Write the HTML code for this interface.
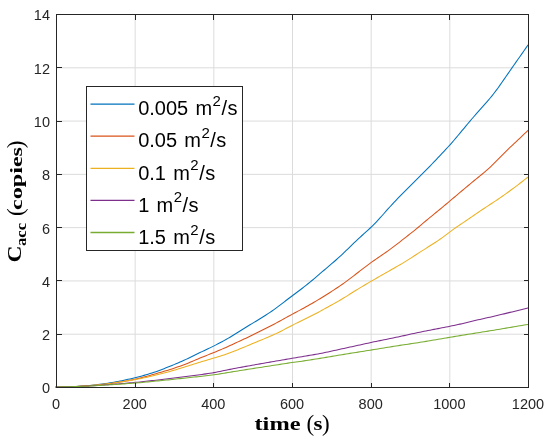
<!DOCTYPE html>
<html><head><meta charset="utf-8"><style>
html,body{margin:0;padding:0;background:#fff;}
body{width:550px;height:440px;overflow:hidden;}
svg{display:block;will-change:transform;}
</style></head><body>
<svg width="550" height="440" viewBox="0 0 550 440">
<rect width="550" height="440" fill="#fff"/>
<g stroke="#dcdcdc" stroke-width="1">
<line x1="135.17" y1="14.5" x2="135.17" y2="387.5"/><line x1="213.83" y1="14.5" x2="213.83" y2="387.5"/><line x1="292.50" y1="14.5" x2="292.50" y2="387.5"/><line x1="371.17" y1="14.5" x2="371.17" y2="387.5"/><line x1="449.83" y1="14.5" x2="449.83" y2="387.5"/><line x1="56.5" y1="334.21" x2="528.5" y2="334.21"/><line x1="56.5" y1="280.93" x2="528.5" y2="280.93"/><line x1="56.5" y1="227.64" x2="528.5" y2="227.64"/><line x1="56.5" y1="174.36" x2="528.5" y2="174.36"/><line x1="56.5" y1="121.07" x2="528.5" y2="121.07"/><line x1="56.5" y1="67.79" x2="528.5" y2="67.79"/>
</g>
<g fill="none" stroke-width="1.05" stroke-linejoin="round" stroke-linecap="round">
<polyline stroke="#0072BD" points="56.0,387.00 58.0,386.98 60.0,386.96 62.0,386.93 64.0,386.90 66.0,386.85 68.0,386.80 70.0,386.73 72.0,386.66 74.0,386.57 76.0,386.47 78.0,386.36 80.0,386.24 82.0,386.10 84.0,385.95 86.0,385.79 88.0,385.62 90.0,385.43 92.0,385.24 94.0,385.02 96.0,384.80 98.0,384.56 100.0,384.31 102.0,384.04 104.0,383.77 106.0,383.47 108.0,383.17 110.0,382.85 112.0,382.52 114.0,382.17 116.0,381.81 118.0,381.43 120.0,381.05 122.0,380.64 124.0,380.23 126.0,379.79 128.0,379.35 130.0,378.89 132.0,378.42 134.0,377.94 136.0,377.45 138.0,376.95 140.0,376.44 142.0,375.91 144.0,375.37 146.0,374.81 148.0,374.23 150.0,373.62 152.0,372.99 154.0,372.34 156.0,371.66 158.0,370.94 160.0,370.20 162.0,369.44 164.0,368.65 166.0,367.86 168.0,367.06 170.0,366.25 172.0,365.44 174.0,364.62 176.0,363.78 178.0,362.94 180.0,362.08 182.0,361.20 184.0,360.30 186.0,359.38 188.0,358.44 190.0,357.47 192.0,356.49 194.0,355.51 196.0,354.52 198.0,353.55 200.0,352.58 202.0,351.63 204.0,350.69 206.0,349.75 208.0,348.81 210.0,347.85 212.0,346.88 214.0,345.89 216.0,344.87 218.0,343.83 220.0,342.77 222.0,341.69 224.0,340.60 226.0,339.49 228.0,338.35 230.0,337.18 232.0,335.98 234.0,334.75 236.0,333.49 238.0,332.23 240.0,330.98 242.0,329.73 244.0,328.49 246.0,327.26 248.0,326.04 250.0,324.82 252.0,323.61 254.0,322.40 256.0,321.18 258.0,319.97 260.0,318.74 262.0,317.50 264.0,316.24 266.0,314.97 268.0,313.67 270.0,312.35 272.0,311.00 274.0,309.61 276.0,308.18 278.0,306.70 280.0,305.18 282.0,303.63 284.0,302.07 286.0,300.52 288.0,298.99 290.0,297.49 292.0,295.99 294.0,294.50 296.0,293.01 298.0,291.50 300.0,289.99 302.0,288.46 304.0,286.92 306.0,285.36 308.0,283.77 310.0,282.14 312.0,280.48 314.0,278.78 316.0,277.06 318.0,275.34 320.0,273.62 322.0,271.92 324.0,270.23 326.0,268.55 328.0,266.86 330.0,265.17 332.0,263.47 334.0,261.74 336.0,259.99 338.0,258.20 340.0,256.38 342.0,254.51 344.0,252.62 346.0,250.70 348.0,248.76 350.0,246.82 352.0,244.88 354.0,242.96 356.0,241.05 358.0,239.17 360.0,237.32 362.0,235.50 364.0,233.70 366.0,231.91 368.0,230.09 370.0,228.24 372.0,226.32 374.0,224.33 376.0,222.27 378.0,220.15 380.0,217.97 382.0,215.74 384.0,213.48 386.0,211.22 388.0,208.96 390.0,206.73 392.0,204.55 394.0,202.40 396.0,200.30 398.0,198.22 400.0,196.17 402.0,194.14 404.0,192.11 406.0,190.09 408.0,188.08 410.0,186.07 412.0,184.07 414.0,182.08 416.0,180.11 418.0,178.15 420.0,176.18 422.0,174.21 424.0,172.22 426.0,170.21 428.0,168.16 430.0,166.10 432.0,164.01 434.0,161.91 436.0,159.81 438.0,157.70 440.0,155.59 442.0,153.47 444.0,151.34 446.0,149.19 448.0,147.01 450.0,144.80 452.0,142.54 454.0,140.23 456.0,137.89 458.0,135.52 460.0,133.12 462.0,130.70 464.0,128.29 466.0,125.87 468.0,123.48 470.0,121.12 472.0,118.78 474.0,116.48 476.0,114.21 478.0,111.95 480.0,109.70 482.0,107.45 484.0,105.19 486.0,102.91 488.0,100.60 490.0,98.23 492.0,95.80 494.0,93.28 496.0,90.66 498.0,87.95 500.0,85.16 502.0,82.30 504.0,79.41 506.0,76.51 508.0,73.61 510.0,70.72 512.0,67.85 514.0,64.99 516.0,62.14 518.0,59.30 520.0,56.45 522.0,53.59 524.0,50.73 526.0,47.87 528.0,45.00 528.0,45.00"/>
<polyline stroke="#D95319" points="56.0,387.00 58.0,386.98 60.0,386.97 62.0,386.95 64.0,386.92 66.0,386.88 68.0,386.84 70.0,386.78 72.0,386.72 74.0,386.65 76.0,386.57 78.0,386.48 80.0,386.38 82.0,386.27 84.0,386.14 86.0,386.01 88.0,385.87 90.0,385.72 92.0,385.55 94.0,385.38 96.0,385.19 98.0,384.99 100.0,384.79 102.0,384.57 104.0,384.34 106.0,384.09 108.0,383.84 110.0,383.57 112.0,383.30 114.0,383.01 116.0,382.71 118.0,382.40 120.0,382.07 122.0,381.74 124.0,381.39 126.0,381.03 128.0,380.66 130.0,380.28 132.0,379.88 134.0,379.48 136.0,379.05 138.0,378.60 140.0,378.12 142.0,377.62 144.0,377.09 146.0,376.53 148.0,375.97 150.0,375.39 152.0,374.81 154.0,374.23 156.0,373.65 158.0,373.07 160.0,372.49 162.0,371.91 164.0,371.32 166.0,370.73 168.0,370.13 170.0,369.52 172.0,368.89 174.0,368.23 176.0,367.56 178.0,366.87 180.0,366.16 182.0,365.43 184.0,364.69 186.0,363.94 188.0,363.15 190.0,362.34 192.0,361.49 194.0,360.63 196.0,359.77 198.0,358.90 200.0,358.06 202.0,357.24 204.0,356.44 206.0,355.66 208.0,354.88 210.0,354.10 212.0,353.31 214.0,352.51 216.0,351.68 218.0,350.85 220.0,350.00 222.0,349.14 224.0,348.27 226.0,347.40 228.0,346.51 230.0,345.60 232.0,344.69 234.0,343.76 236.0,342.82 238.0,341.89 240.0,340.96 242.0,340.03 244.0,339.10 246.0,338.17 248.0,337.24 250.0,336.28 252.0,335.31 254.0,334.33 256.0,333.34 258.0,332.34 260.0,331.34 262.0,330.34 264.0,329.34 266.0,328.34 268.0,327.33 270.0,326.30 272.0,325.26 274.0,324.20 276.0,323.13 278.0,322.05 280.0,320.96 282.0,319.85 284.0,318.74 286.0,317.63 288.0,316.52 290.0,315.42 292.0,314.34 294.0,313.27 296.0,312.21 298.0,311.15 300.0,310.09 302.0,309.01 304.0,307.92 306.0,306.81 308.0,305.69 310.0,304.56 312.0,303.42 314.0,302.27 316.0,301.11 318.0,299.92 320.0,298.72 322.0,297.50 324.0,296.26 326.0,295.01 328.0,293.74 330.0,292.46 332.0,291.17 334.0,289.88 336.0,288.56 338.0,287.23 340.0,285.87 342.0,284.48 344.0,283.06 346.0,281.61 348.0,280.13 350.0,278.62 352.0,277.10 354.0,275.56 356.0,274.03 358.0,272.49 360.0,270.95 362.0,269.40 364.0,267.87 366.0,266.34 368.0,264.82 370.0,263.34 372.0,261.89 374.0,260.47 376.0,259.08 378.0,257.72 380.0,256.36 382.0,254.99 384.0,253.62 386.0,252.23 388.0,250.82 390.0,249.39 392.0,247.93 394.0,246.44 396.0,244.92 398.0,243.36 400.0,241.79 402.0,240.21 404.0,238.63 406.0,237.07 408.0,235.52 410.0,233.96 412.0,232.39 414.0,230.79 416.0,229.15 418.0,227.48 420.0,225.79 422.0,224.09 424.0,222.40 426.0,220.73 428.0,219.07 430.0,217.43 432.0,215.79 434.0,214.16 436.0,212.53 438.0,210.89 440.0,209.24 442.0,207.59 444.0,205.93 446.0,204.25 448.0,202.57 450.0,200.89 452.0,199.20 454.0,197.51 456.0,195.82 458.0,194.13 460.0,192.44 462.0,190.76 464.0,189.09 466.0,187.41 468.0,185.74 470.0,184.08 472.0,182.42 474.0,180.78 476.0,179.15 478.0,177.53 480.0,175.92 482.0,174.28 484.0,172.61 486.0,170.89 488.0,169.11 490.0,167.27 492.0,165.36 494.0,163.40 496.0,161.40 498.0,159.36 500.0,157.31 502.0,155.27 504.0,153.27 506.0,151.30 508.0,149.38 510.0,147.48 512.0,145.60 514.0,143.72 516.0,141.84 518.0,139.95 520.0,138.05 522.0,136.15 524.0,134.24 526.0,132.32 528.0,130.40 528.0,130.40"/>
<polyline stroke="#EDB120" points="56.0,387.00 58.0,386.98 60.0,386.95 62.0,386.92 64.0,386.88 66.0,386.84 68.0,386.78 70.0,386.72 72.0,386.64 74.0,386.56 76.0,386.46 78.0,386.36 80.0,386.25 82.0,386.13 84.0,385.99 86.0,385.85 88.0,385.70 90.0,385.54 92.0,385.37 94.0,385.19 96.0,385.01 98.0,384.81 100.0,384.60 102.0,384.39 104.0,384.16 106.0,383.93 108.0,383.69 110.0,383.44 112.0,383.17 114.0,382.90 116.0,382.62 118.0,382.33 120.0,382.04 122.0,381.73 124.0,381.42 126.0,381.09 128.0,380.77 130.0,380.43 132.0,380.10 134.0,379.77 136.0,379.43 138.0,379.07 140.0,378.70 142.0,378.29 144.0,377.86 146.0,377.41 148.0,376.94 150.0,376.46 152.0,375.98 154.0,375.49 156.0,375.01 158.0,374.52 160.0,374.03 162.0,373.54 164.0,373.04 166.0,372.53 168.0,372.00 170.0,371.45 172.0,370.87 174.0,370.28 176.0,369.66 178.0,369.03 180.0,368.40 182.0,367.77 184.0,367.14 186.0,366.51 188.0,365.89 190.0,365.27 192.0,364.66 194.0,364.04 196.0,363.43 198.0,362.82 200.0,362.21 202.0,361.61 204.0,361.00 206.0,360.40 208.0,359.80 210.0,359.20 212.0,358.60 214.0,358.01 216.0,357.42 218.0,356.82 220.0,356.21 222.0,355.59 224.0,354.94 226.0,354.26 228.0,353.54 230.0,352.80 232.0,352.04 234.0,351.26 236.0,350.47 238.0,349.67 240.0,348.86 242.0,348.04 244.0,347.21 246.0,346.38 248.0,345.53 250.0,344.69 252.0,343.84 254.0,343.01 256.0,342.18 258.0,341.36 260.0,340.54 262.0,339.72 264.0,338.89 266.0,338.05 268.0,337.20 270.0,336.33 272.0,335.44 274.0,334.54 276.0,333.61 278.0,332.67 280.0,331.69 282.0,330.68 284.0,329.64 286.0,328.58 288.0,327.51 290.0,326.45 292.0,325.41 294.0,324.39 296.0,323.39 298.0,322.41 300.0,321.44 302.0,320.47 304.0,319.50 306.0,318.52 308.0,317.54 310.0,316.55 312.0,315.54 314.0,314.52 316.0,313.48 318.0,312.42 320.0,311.34 322.0,310.24 324.0,309.14 326.0,308.04 328.0,306.93 330.0,305.81 332.0,304.70 334.0,303.59 336.0,302.48 338.0,301.36 340.0,300.21 342.0,299.03 344.0,297.82 346.0,296.59 348.0,295.33 350.0,294.06 352.0,292.80 354.0,291.55 356.0,290.31 358.0,289.08 360.0,287.86 362.0,286.65 364.0,285.45 366.0,284.27 368.0,283.09 370.0,281.92 372.0,280.75 374.0,279.59 376.0,278.44 378.0,277.30 380.0,276.15 382.0,275.01 384.0,273.87 386.0,272.73 388.0,271.59 390.0,270.45 392.0,269.32 394.0,268.18 396.0,267.05 398.0,265.91 400.0,264.76 402.0,263.59 404.0,262.40 406.0,261.17 408.0,259.91 410.0,258.63 412.0,257.32 414.0,256.01 416.0,254.70 418.0,253.40 420.0,252.12 422.0,250.84 424.0,249.58 426.0,248.32 428.0,247.06 430.0,245.80 432.0,244.54 434.0,243.27 436.0,241.98 438.0,240.67 440.0,239.30 442.0,237.89 444.0,236.42 446.0,234.91 448.0,233.39 450.0,231.87 452.0,230.39 454.0,228.93 456.0,227.52 458.0,226.14 460.0,224.78 462.0,223.43 464.0,222.07 466.0,220.71 468.0,219.34 470.0,217.97 472.0,216.59 474.0,215.21 476.0,213.83 478.0,212.47 480.0,211.12 482.0,209.79 484.0,208.47 486.0,207.16 488.0,205.86 490.0,204.56 492.0,203.25 494.0,201.93 496.0,200.60 498.0,199.25 500.0,197.88 502.0,196.49 504.0,195.08 506.0,193.65 508.0,192.21 510.0,190.76 512.0,189.29 514.0,187.81 516.0,186.32 518.0,184.81 520.0,183.28 522.0,181.73 524.0,180.17 526.0,178.59 528.0,177.00 528.0,177.00"/>
<polyline stroke="#7E2F8E" points="56.0,387.00 58.0,386.97 60.0,386.94 62.0,386.91 64.0,386.87 66.0,386.82 68.0,386.77 70.0,386.71 72.0,386.65 74.0,386.58 76.0,386.50 78.0,386.42 80.0,386.33 82.0,386.24 84.0,386.15 86.0,386.05 88.0,385.94 90.0,385.84 92.0,385.72 94.0,385.61 96.0,385.49 98.0,385.36 100.0,385.23 102.0,385.10 104.0,384.96 106.0,384.83 108.0,384.68 110.0,384.54 112.0,384.39 114.0,384.23 116.0,384.07 118.0,383.91 120.0,383.75 122.0,383.58 124.0,383.41 126.0,383.24 128.0,383.07 130.0,382.89 132.0,382.71 134.0,382.53 136.0,382.34 138.0,382.15 140.0,381.95 142.0,381.75 144.0,381.53 146.0,381.31 148.0,381.09 150.0,380.87 152.0,380.64 154.0,380.42 156.0,380.19 158.0,379.96 160.0,379.74 162.0,379.51 164.0,379.28 166.0,379.05 168.0,378.82 170.0,378.59 172.0,378.35 174.0,378.10 176.0,377.85 178.0,377.59 180.0,377.33 182.0,377.06 184.0,376.80 186.0,376.53 188.0,376.27 190.0,376.00 192.0,375.73 194.0,375.47 196.0,375.20 198.0,374.93 200.0,374.67 202.0,374.40 204.0,374.13 206.0,373.86 208.0,373.57 210.0,373.28 212.0,372.96 214.0,372.61 216.0,372.24 218.0,371.85 220.0,371.44 222.0,371.02 224.0,370.60 226.0,370.18 228.0,369.77 230.0,369.37 232.0,368.97 234.0,368.59 236.0,368.22 238.0,367.85 240.0,367.48 242.0,367.12 244.0,366.75 246.0,366.39 248.0,366.03 250.0,365.67 252.0,365.30 254.0,364.94 256.0,364.59 258.0,364.23 260.0,363.88 262.0,363.53 264.0,363.18 266.0,362.83 268.0,362.49 270.0,362.14 272.0,361.79 274.0,361.45 276.0,361.10 278.0,360.75 280.0,360.40 282.0,360.06 284.0,359.71 286.0,359.36 288.0,359.02 290.0,358.68 292.0,358.34 294.0,358.00 296.0,357.66 298.0,357.33 300.0,356.99 302.0,356.65 304.0,356.32 306.0,355.98 308.0,355.64 310.0,355.30 312.0,354.96 314.0,354.62 316.0,354.27 318.0,353.91 320.0,353.54 322.0,353.16 324.0,352.76 326.0,352.35 328.0,351.92 330.0,351.49 332.0,351.05 334.0,350.61 336.0,350.17 338.0,349.73 340.0,349.29 342.0,348.85 344.0,348.41 346.0,347.97 348.0,347.53 350.0,347.09 352.0,346.65 354.0,346.21 356.0,345.77 358.0,345.33 360.0,344.89 362.0,344.45 364.0,344.01 366.0,343.57 368.0,343.14 370.0,342.71 372.0,342.28 374.0,341.86 376.0,341.45 378.0,341.03 380.0,340.62 382.0,340.21 384.0,339.80 386.0,339.39 388.0,338.98 390.0,338.57 392.0,338.16 394.0,337.75 396.0,337.33 398.0,336.91 400.0,336.48 402.0,336.05 404.0,335.62 406.0,335.18 408.0,334.74 410.0,334.30 412.0,333.86 414.0,333.43 416.0,333.00 418.0,332.57 420.0,332.15 422.0,331.74 424.0,331.34 426.0,330.94 428.0,330.55 430.0,330.16 432.0,329.77 434.0,329.38 436.0,329.00 438.0,328.61 440.0,328.22 442.0,327.83 444.0,327.44 446.0,327.05 448.0,326.65 450.0,326.25 452.0,325.84 454.0,325.43 456.0,325.01 458.0,324.57 460.0,324.13 462.0,323.67 464.0,323.20 466.0,322.72 468.0,322.24 470.0,321.75 472.0,321.27 474.0,320.79 476.0,320.32 478.0,319.86 480.0,319.40 482.0,318.94 484.0,318.49 486.0,318.04 488.0,317.59 490.0,317.14 492.0,316.68 494.0,316.23 496.0,315.77 498.0,315.31 500.0,314.83 502.0,314.35 504.0,313.87 506.0,313.38 508.0,312.88 510.0,312.38 512.0,311.89 514.0,311.39 516.0,310.89 518.0,310.39 520.0,309.89 522.0,309.39 524.0,308.90 526.0,308.40 528.0,307.90 528.0,307.90"/>
<polyline stroke="#77AC30" points="56.0,387.00 58.0,386.97 60.0,386.95 62.0,386.92 64.0,386.88 66.0,386.84 68.0,386.79 70.0,386.74 72.0,386.68 74.0,386.62 76.0,386.55 78.0,386.48 80.0,386.41 82.0,386.33 84.0,386.25 86.0,386.16 88.0,386.07 90.0,385.97 92.0,385.88 94.0,385.77 96.0,385.67 98.0,385.56 100.0,385.45 102.0,385.34 104.0,385.22 106.0,385.10 108.0,384.98 110.0,384.85 112.0,384.72 114.0,384.59 116.0,384.45 118.0,384.32 120.0,384.18 122.0,384.03 124.0,383.89 126.0,383.74 128.0,383.59 130.0,383.44 132.0,383.29 134.0,383.14 136.0,382.98 138.0,382.82 140.0,382.65 142.0,382.47 144.0,382.28 146.0,382.09 148.0,381.89 150.0,381.69 152.0,381.49 154.0,381.29 156.0,381.09 158.0,380.88 160.0,380.68 162.0,380.48 164.0,380.28 166.0,380.07 168.0,379.87 170.0,379.67 172.0,379.46 174.0,379.25 176.0,379.04 178.0,378.82 180.0,378.61 182.0,378.39 184.0,378.18 186.0,377.96 188.0,377.74 190.0,377.53 192.0,377.31 194.0,377.09 196.0,376.87 198.0,376.66 200.0,376.44 202.0,376.22 204.0,376.00 206.0,375.78 208.0,375.55 210.0,375.31 212.0,375.06 214.0,374.78 216.0,374.49 218.0,374.18 220.0,373.86 222.0,373.54 224.0,373.21 226.0,372.87 228.0,372.54 230.0,372.21 232.0,371.88 234.0,371.56 236.0,371.23 238.0,370.91 240.0,370.59 242.0,370.27 244.0,369.95 246.0,369.64 248.0,369.32 250.0,369.01 252.0,368.70 254.0,368.39 256.0,368.08 258.0,367.77 260.0,367.46 262.0,367.15 264.0,366.84 266.0,366.53 268.0,366.22 270.0,365.91 272.0,365.60 274.0,365.29 276.0,364.98 278.0,364.68 280.0,364.37 282.0,364.06 284.0,363.75 286.0,363.44 288.0,363.14 290.0,362.85 292.0,362.56 294.0,362.28 296.0,362.00 298.0,361.72 300.0,361.44 302.0,361.15 304.0,360.86 306.0,360.56 308.0,360.25 310.0,359.94 312.0,359.63 314.0,359.31 316.0,359.00 318.0,358.68 320.0,358.36 322.0,358.04 324.0,357.71 326.0,357.38 328.0,357.04 330.0,356.71 332.0,356.37 334.0,356.03 336.0,355.69 338.0,355.35 340.0,355.02 342.0,354.69 344.0,354.36 346.0,354.03 348.0,353.71 350.0,353.39 352.0,353.07 354.0,352.75 356.0,352.43 358.0,352.11 360.0,351.79 362.0,351.48 364.0,351.16 366.0,350.84 368.0,350.52 370.0,350.20 372.0,349.88 374.0,349.55 376.0,349.23 378.0,348.90 380.0,348.58 382.0,348.25 384.0,347.92 386.0,347.60 388.0,347.27 390.0,346.94 392.0,346.62 394.0,346.30 396.0,345.98 398.0,345.66 400.0,345.36 402.0,345.05 404.0,344.75 406.0,344.46 408.0,344.16 410.0,343.87 412.0,343.57 414.0,343.27 416.0,342.97 418.0,342.67 420.0,342.35 422.0,342.03 424.0,341.70 426.0,341.37 428.0,341.03 430.0,340.69 432.0,340.35 434.0,340.01 436.0,339.67 438.0,339.33 440.0,338.99 442.0,338.65 444.0,338.31 446.0,337.97 448.0,337.63 450.0,337.29 452.0,336.95 454.0,336.61 456.0,336.28 458.0,335.95 460.0,335.62 462.0,335.29 464.0,334.96 466.0,334.64 468.0,334.32 470.0,334.00 472.0,333.68 474.0,333.36 476.0,333.04 478.0,332.72 480.0,332.40 482.0,332.08 484.0,331.76 486.0,331.44 488.0,331.12 490.0,330.80 492.0,330.47 494.0,330.15 496.0,329.82 498.0,329.48 500.0,329.15 502.0,328.81 504.0,328.47 506.0,328.13 508.0,327.79 510.0,327.45 512.0,327.12 514.0,326.78 516.0,326.44 518.0,326.10 520.0,325.76 522.0,325.42 524.0,325.08 526.0,324.74 528.0,324.40 528.0,324.40"/>
</g>
<g stroke="#262626" stroke-width="1" fill="none" shape-rendering="crispEdges" transform="translate(0.5,0.5)">
<rect x="56" y="14" width="472" height="373"/>
<line x1="56.00" y1="387" x2="56.00" y2="382"/><line x1="56.00" y1="14" x2="56.00" y2="19"/><line x1="134.67" y1="387" x2="134.67" y2="382"/><line x1="134.67" y1="14" x2="134.67" y2="19"/><line x1="213.33" y1="387" x2="213.33" y2="382"/><line x1="213.33" y1="14" x2="213.33" y2="19"/><line x1="292.00" y1="387" x2="292.00" y2="382"/><line x1="292.00" y1="14" x2="292.00" y2="19"/><line x1="370.67" y1="387" x2="370.67" y2="382"/><line x1="370.67" y1="14" x2="370.67" y2="19"/><line x1="449.33" y1="387" x2="449.33" y2="382"/><line x1="449.33" y1="14" x2="449.33" y2="19"/><line x1="528.00" y1="387" x2="528.00" y2="382"/><line x1="528.00" y1="14" x2="528.00" y2="19"/><line x1="56" y1="387.00" x2="61" y2="387.00"/><line x1="528" y1="387.00" x2="523" y2="387.00"/><line x1="56" y1="333.71" x2="61" y2="333.71"/><line x1="528" y1="333.71" x2="523" y2="333.71"/><line x1="56" y1="280.43" x2="61" y2="280.43"/><line x1="528" y1="280.43" x2="523" y2="280.43"/><line x1="56" y1="227.14" x2="61" y2="227.14"/><line x1="528" y1="227.14" x2="523" y2="227.14"/><line x1="56" y1="173.86" x2="61" y2="173.86"/><line x1="528" y1="173.86" x2="523" y2="173.86"/><line x1="56" y1="120.57" x2="61" y2="120.57"/><line x1="528" y1="120.57" x2="523" y2="120.57"/><line x1="56" y1="67.29" x2="61" y2="67.29"/><line x1="528" y1="67.29" x2="523" y2="67.29"/><line x1="56" y1="14.00" x2="61" y2="14.00"/><line x1="528" y1="14.00" x2="523" y2="14.00"/>
</g>
<g font-family="Liberation Sans, sans-serif" font-size="14.5" fill="#262626">
<text x="56.00" y="408.5" text-anchor="middle">0</text><text x="134.67" y="408.5" text-anchor="middle">200</text><text x="213.33" y="408.5" text-anchor="middle">400</text><text x="292.00" y="408.5" text-anchor="middle">600</text><text x="370.67" y="408.5" text-anchor="middle">800</text><text x="449.33" y="408.5" text-anchor="middle">1000</text><text x="528.00" y="408.5" text-anchor="middle">1200</text><text x="50" y="393.40" text-anchor="end">0</text><text x="50" y="340.11" text-anchor="end">2</text><text x="50" y="286.83" text-anchor="end">4</text><text x="50" y="233.54" text-anchor="end">6</text><text x="50" y="180.26" text-anchor="end">8</text><text x="50" y="126.97" text-anchor="end">10</text><text x="50" y="73.69" text-anchor="end">12</text><text x="50" y="20.40" text-anchor="end">14</text>
</g>
<g font-family="Liberation Sans, sans-serif" font-size="20" fill="#000">
<rect x="86.5" y="86.5" width="156.0" height="164.0" fill="#fff" stroke="#262626" stroke-width="1"/><line x1="90.5" y1="104.1" x2="134.5" y2="104.1" stroke="#0072BD" stroke-width="1.3"/><text x="138.2" y="115.00">0.005<tspan dx="1.6"> m</tspan><tspan dx="0.5" dy="-9.5" font-size="15">2</tspan><tspan dx="0.5" dy="9.5">/</tspan><tspan dx="0.5">s</tspan></text><line x1="90.5" y1="136.2" x2="134.5" y2="136.2" stroke="#D95319" stroke-width="1.3"/><text x="138.2" y="147.25">0.05<tspan dx="1.6"> m</tspan><tspan dx="0.5" dy="-9.5" font-size="15">2</tspan><tspan dx="0.5" dy="9.5">/</tspan><tspan dx="0.5">s</tspan></text><line x1="90.5" y1="168.3" x2="134.5" y2="168.3" stroke="#EDB120" stroke-width="1.3"/><text x="138.2" y="179.50">0.1<tspan dx="1.6"> m</tspan><tspan dx="0.5" dy="-9.5" font-size="15">2</tspan><tspan dx="0.5" dy="9.5">/</tspan><tspan dx="0.5">s</tspan></text><line x1="90.5" y1="200.4" x2="134.5" y2="200.4" stroke="#7E2F8E" stroke-width="1.3"/><text x="138.2" y="211.75">1<tspan dx="1.6"> m</tspan><tspan dx="0.5" dy="-9.5" font-size="15">2</tspan><tspan dx="0.5" dy="9.5">/</tspan><tspan dx="0.5">s</tspan></text><line x1="90.5" y1="232.5" x2="134.5" y2="232.5" stroke="#77AC30" stroke-width="1.3"/><text x="138.2" y="244.00">1.5<tspan dx="1.6"> m</tspan><tspan dx="0.5" dy="-9.5" font-size="15">2</tspan><tspan dx="0.5" dy="9.5">/</tspan><tspan dx="0.5">s</tspan></text>
</g>
<g font-family="Liberation Serif, serif" fill="#000">
<text x="254.5" y="429.5" font-weight="bold" font-size="18" textLength="46" lengthAdjust="spacingAndGlyphs">time</text>
<text x="306.6" y="431" font-size="23">(</text>
<text x="313.5" y="429.5" font-weight="bold" font-size="18" textLength="9" lengthAdjust="spacingAndGlyphs">s</text>
<text x="322" y="431" font-size="23">)</text>
</g>
<g font-family="Liberation Serif, serif" fill="#000" transform="translate(20.5,261) rotate(-90)">
<text x="-1.5" y="0" font-weight="bold" font-size="19" textLength="17" lengthAdjust="spacingAndGlyphs">C</text>
<text x="15" y="5" font-weight="bold" font-size="14" textLength="23" lengthAdjust="spacingAndGlyphs">acc</text>
<text x="45" y="2.3" font-size="23">(</text>
<text x="51" y="1" font-weight="bold" font-size="17.5" textLength="63" lengthAdjust="spacingAndGlyphs">copies</text>
<text x="112.8" y="2.3" font-size="23">)</text>
</g>
</svg>
</body></html>
